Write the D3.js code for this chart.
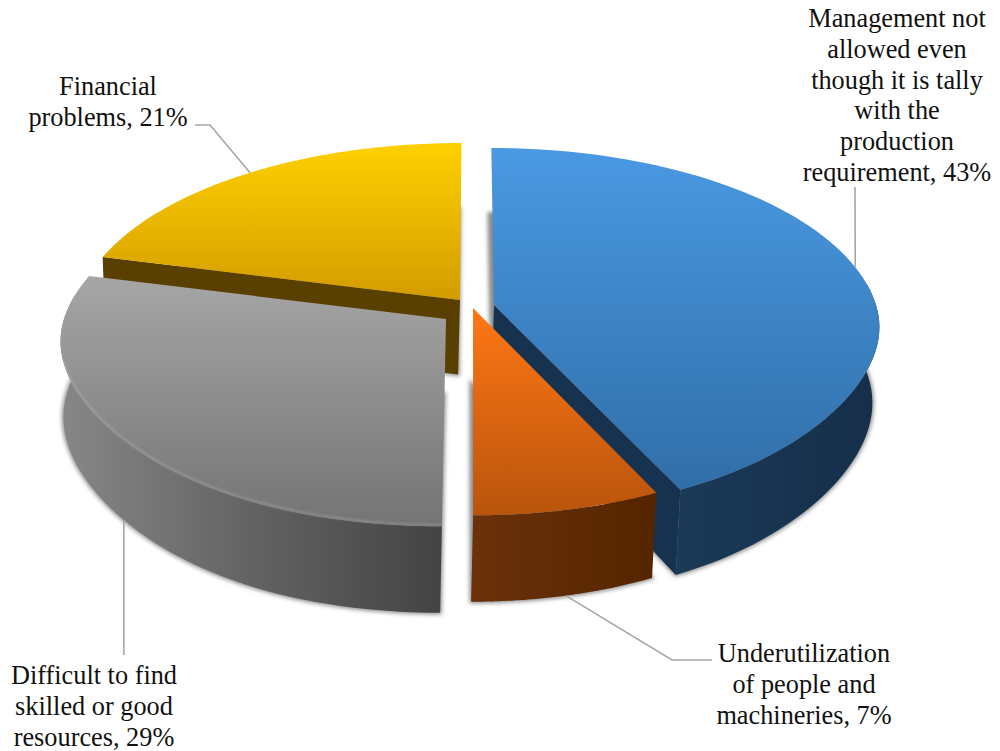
<!DOCTYPE html>
<html>
<head>
<meta charset="utf-8">
<script src="https://cdn.jsdelivr.net/npm/d3@7/dist/d3.min.js"></script>
<style>
  html, body { margin: 0; padding: 0; background: #fff; }
  svg { display: block; }
  text { font-family: "Liberation Serif", "Times New Roman", serif; font-size: 26.3px; fill: #111; }
</style>
</head>
<body>
<svg id="chart" width="1000" height="751"></svg>
<script>
// Reasons for production constraints, share of respondents in percent
const categories = [
  "Management not allowed even though it is tally with the production requirement",
  "Underutilization of people and machineries",
  "Difficult to find skilled or good resources",
  "Financial problems"
];
const values = [43, 7, 29, 21];

// Wrapped label text per slice; the percentage is appended to the last line
const labelLines = [
  ["Management not", "allowed even", "though it is tally", "with the", "production", "requirement,"],
  ["Underutilization", "of people and", "machineries,"],
  ["Difficult to find", "skilled or good", "resources,"],
  ["Financial", "problems,"]
];
const labelAnchors = [[897, 27], [804, 662], [94, 684], [108, 95]];
const lineStep = 30.8;

// Exploded offset of each slice's apex
const apexX = [494, 473, 446, 460];
const apexY = [305, 308, 319, 300];

// Leader line waypoints after the anchor on the slice rim; a null x keeps the line vertical
const leaderStops = [
  [[855, 187]],
  [[672, 660], [712, 660]],
  [[null, 655]],
  [[210, 125], [195, 125]]
];
const leaderDepth = [0, 1, 1, 0];

const topColors = [
  ["#4a99e2", "#306ea8"],
  ["#ff7715", "#b9540c"],
  ["#a6a6a6", "#747474"],
  ["#ffd000", "#d39c00"]
];
const wallColors = [
  ["#1a3a58", "#162e49"],
  ["#6b310a", "#542500"],
  ["#878787", "#636363", "#434343"],
  ["#5a4000", "#5a4000"]
];
const cutColors = ["#16324f", "#5a2a05", "#555555", "#5a4000"];
const rimLight = [0, 0, 0.22, 0];

// Projection of the tilted disc
const radius = 382, tiltRadius = 178.7, thickness = 74.5;
const perspective = 0.138, vanishX = 472;
const bottomShrink = 0.0122, bottomVanishX = 304, frontPinch = 42;

function project(i, angle, r, z) {
  const u = Math.sin(angle) * r, v = Math.cos(angle) * r;
  const w = 1 + perspective * v;
  const pinch = v < 0 ? frontPinch * u * u * u * v * v : 0;
  const x = vanishX + (apexX[i] - vanishX + radius * u) / w - pinch;
  return [
    x - (x - bottomVanishX) * bottomShrink * z,
    apexY[i] - tiltRadius * v / w + z * thickness / w
  ];
}

const arcs = d3.pie().sort(null).value(d => d)(values);
const line = d3.line();
const closed = pts => line(pts) + "Z";

function rimAngles(i) {
  const a = arcs[i];
  return d3.range(0, 81).map(t => a.startAngle + (a.endAngle - a.startAngle) * t / 80);
}
const rim = (i, z) => rimAngles(i).map(t => project(i, t, 1, z));
// Only the stretch of rim that turns toward the viewer carries a visible wall
const frontRim = (i, z) => rimAngles(i).filter(t => Math.cos(t) < 0.15).map(t => project(i, t, 1, z));

const svg = d3.select("#chart");
const defs = svg.append("defs");

defs.append("filter").attr("id", "soft")
  .attr("x", "-5%").attr("y", "-5%").attr("width", "110%").attr("height", "110%")
  .append("feGaussianBlur").attr("stdDeviation", 2);
defs.append("filter").attr("id", "bevel")
  .attr("x", "-5%").attr("y", "-5%").attr("width", "110%").attr("height", "110%")
  .append("feGaussianBlur").attr("stdDeviation", 0.8);

function gradient(id, stops, horizontal) {
  const g = defs.append("linearGradient").attr("id", id)
    .attr("x1", 0).attr("y1", 0)
    .attr("x2", horizontal ? 1 : 0).attr("y2", horizontal ? 0 : 1);
  stops.forEach((c, k) => g.append("stop")
    .attr("offset", k / (stops.length - 1)).attr("stop-color", c));
}
values.forEach((_, i) => {
  gradient("top" + i, topColors[i], false);
  gradient("wall" + i, wallColors[i], true);
});

// Soft drop shadows cast by the underside of every slice
const shadows = svg.append("g").attr("filter", "url(#soft)");
arcs.forEach((a, i) => {
  shadows.append("path")
    .attr("d", closed([project(i, 0, 0, 1), ...rim(i, 1)]))
    .attr("fill", "#8a8a8a").attr("stroke", "#8a8a8a").attr("stroke-width", 3);
});

// Paint slices back to front
[3, 0, 2, 1].forEach(i => {
  const a = arcs[i];
  const g = svg.append("g").attr("class", "slice");
  const apexTop = project(i, 0, 0, 0), apexBottom = project(i, 0, 0, 1);

  // Radial cut faces that point toward the viewer
  if (Math.sin(a.startAngle) < -0.01) {
    g.append("path").attr("fill", cutColors[i]).attr("d", closed([
      apexTop, project(i, a.startAngle, 1, 0), project(i, a.startAngle, 1, 1), apexBottom
    ]));
  }
  if (-Math.sin(a.endAngle) < -0.01) {
    g.append("path").attr("fill", cutColors[i]).attr("d", closed([
      apexTop, project(i, a.endAngle, 1, 0), project(i, a.endAngle, 1, 1), apexBottom
    ]));
  }

  // Outer rim wall
  const wallTop = frontRim(i, 0);
  if (wallTop.length) {
    g.append("path").attr("fill", `url(#wall${i})`)
      .attr("d", closed([...wallTop, ...frontRim(i, 1).reverse()]));
  }

  // Top face
  g.append("path").attr("fill", `url(#top${i})`)
    .attr("d", closed([apexTop, ...rim(i, 0)]));

  // Faint light catching the front edge of the top face
  if (rimLight[i] > 0) {
    g.append("path").attr("fill", "none").attr("stroke", "#fff")
      .attr("stroke-width", 1.6).attr("stroke-opacity", rimLight[i])
      .attr("filter", "url(#bevel)")
      .attr("d", line(rim(i, 0).slice(0, 60).map(p => [p[0], p[1] - 1.5])));
  }
});

// Leader lines from each slice's mid angle out to its label
const leaders = svg.append("g").attr("fill", "none")
  .attr("stroke", "#a6a6a6").attr("stroke-width", 1.6);
arcs.forEach((a, i) => {
  const mid = (a.startAngle + a.endAngle) / 2;
  const start = project(i, mid, 1, leaderDepth[i]);
  const stops = leaderStops[i].map(p => [p[0] === null ? start[0] : p[0], p[1]]);
  leaders.append("path").attr("d", line([start, ...stops]));
});

// Category labels
arcs.forEach((a, i) => {
  const t = svg.append("text").attr("text-anchor", "middle");
  labelLines[i].forEach((s, k) => {
    const last = k === labelLines[i].length - 1;
    t.append("tspan")
      .attr("x", labelAnchors[i][0])
      .attr("y", labelAnchors[i][1] + k * lineStep)
      .text(last ? `${s} ${values[i]}%` : s);
  });
});
</script>
</body>
</html>
